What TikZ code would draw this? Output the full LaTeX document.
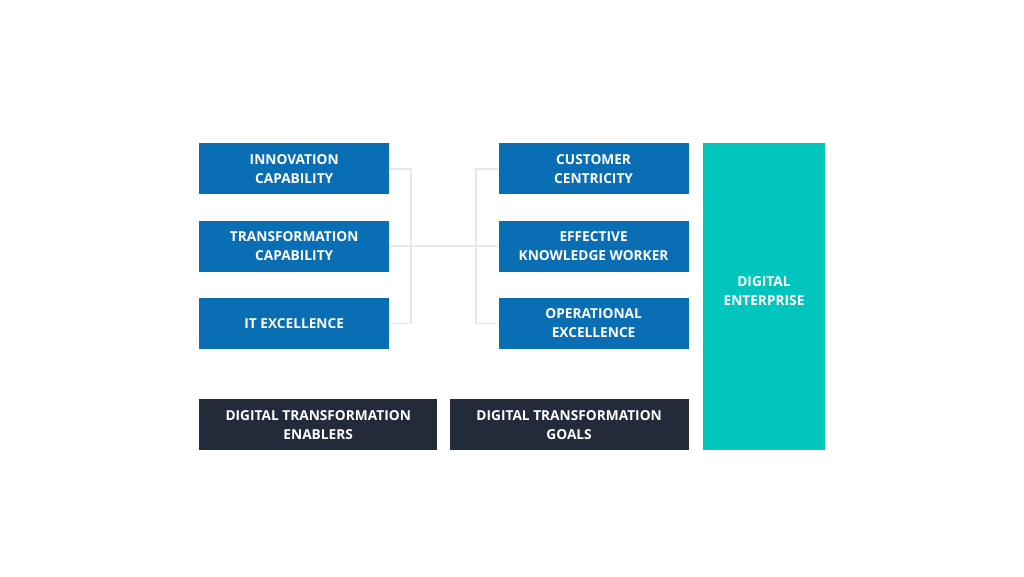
\documentclass[tikz,border=0pt]{standalone}
\usepackage{fontspec}
\setmainfont{Open Sans}
\usepackage{tikz}
\usetikzlibrary{positioning,calc}
\definecolor{boxblue}{HTML}{0A6EB4}
\definecolor{boxteal}{HTML}{02C6BD}
\definecolor{boxnavy}{HTML}{232B3B}
\definecolor{linkgray}{HTML}{E8E8E8}
\tikzset{
    block/.style={fill=boxblue, text=white, font=\bfseries\fontsize{13.7}{19}\selectfont, align=center, minimum width=190pt, minimum height=51pt, inner sep=0pt},
    label/.style={block, fill=boxnavy},
    link/.style={draw=linkgray, line width=1.8pt}
}

\begin{document}
\begin{tikzpicture}[x=1pt, y=-1pt, node distance=26pt]
                \useasboundingbox (0,0) rectangle (1024,576);
                \node[block, anchor=north west] (innov) at (199,143) {INNOVATION\\CAPABILITY};
                \node[block, below=of innov] (trans) {TRANSFORMATION\\CAPABILITY};
                \node[block, below=of trans] (itex) {IT EXCELLENCE};
                \node[block, right=109pt of innov] (cust) {CUSTOMER\\CENTRICITY};
                \node[block, below=of cust] (eff) {EFFECTIVE\\KNOWLEDGE WORKER};
                \node[block, below=of eff] (oper) {OPERATIONAL\\EXCELLENCE};
                \node[block, fill=boxteal, anchor=north west, minimum width=122pt, minimum height=307pt] (digent) at ($(cust.north east)+(14,0)$) {};
                \node[font=\bfseries\fontsize{13.7}{19}\selectfont, text=white, align=center] (digtext) at ($(digent.center)+(0,-6)$) {DIGITAL\\ENTERPRISE};
                \node[label, anchor=north west, minimum width=238pt] (enablers) at (199,399) {DIGITAL TRANSFORMATION\\ENABLERS};
                \node[label, right=12pt of enablers, minimum width=239pt] (goals) {DIGITAL TRANSFORMATION\\GOALS};
                
                \coordinate (lbus) at (411,246);
                \coordinate (rbus) at (476,246);
                \draw[link] (innov.east) -| (lbus) |- (itex.east);
                \draw[link] (trans.east) -- (eff.west);
                \draw[link] (cust.west) -| (rbus) |- (oper.west);
            \end{tikzpicture}
\end{document}
